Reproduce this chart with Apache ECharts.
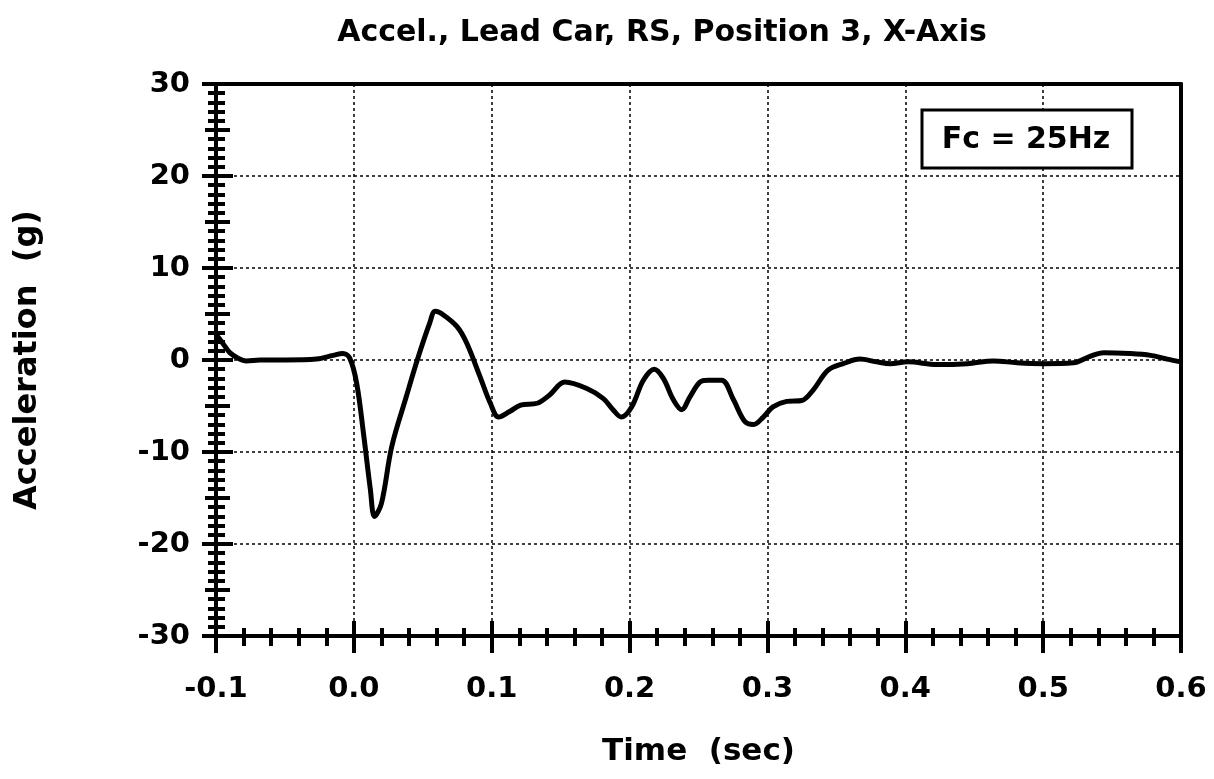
<!DOCTYPE html>
<html>
<head>
<meta charset="utf-8">
<script src="https://cdn.jsdelivr.net/npm/echarts@6/dist/echarts.min.js"></script>
<style>
html, body { margin: 0; padding: 0; background: #fff; }
#main { width: 1214px; height: 779px; }
</style>
</head>
<body>
<div id="main"></div>
<script>
// data
var timeSec = [-0.100, -0.095, -0.090, -0.084, -0.078, -0.068, -0.050, -0.027, -0.015, -0.008,
	-0.003, 0.002, 0.007, 0.012, 0.015, 0.020, 0.0275, 0.038, 0.046, 0.055,
	0.059, 0.065, 0.075, 0.082, 0.0915, 0.099, 0.105, 0.113, 0.121, 0.133,
	0.142, 0.153, 0.169, 0.181, 0.188, 0.194, 0.2015, 0.210, 0.218, 0.2245,
	0.2317, 0.2378, 0.2438, 0.251, 0.257, 0.2668, 0.2753, 0.2837, 0.290, 0.297,
	0.304, 0.314, 0.325, 0.333, 0.344, 0.355, 0.367, 0.379, 0.389, 0.402,
	0.423, 0.445, 0.464, 0.481, 0.500, 0.522, 0.534, 0.544, 0.563, 0.578,
	0.590, 0.600];
var accelG = [2.8, 1.8, 0.8, 0.2, -0.1, 0.0, 0.0, 0.1, 0.5, 0.7,
	0.2, -2.5, -8.0, -14.1, -17.0, -15.6, -9.4, -4.0, 0.0, 4.0,
	5.3, 4.9, 3.6, 1.8, -1.8, -4.7, -6.2, -5.6, -4.9, -4.7,
	-3.8, -2.4, -3.1, -4.2, -5.4, -6.2, -5.1, -2.2, -1.0, -2.0,
	-4.3, -5.4, -4.0, -2.4, -2.2, -2.2, -4.3, -6.7, -7.0, -6.2,
	-5.1, -4.5, -4.4, -3.3, -1.1, -0.4, 0.1, -0.2, -0.4, -0.2,
	-0.5, -0.4, -0.1, -0.3, -0.4, -0.3, 0.4, 0.8, 0.7, 0.5,
	0.1, -0.2];
var xTicks = [-0.1, 0.6, 0.1];   // min, max, step
var yTicks = [-30, 30, 10];

var FONT = '"DejaVu Sans", Arial, sans-serif';

var seriesData = [];
for (var i = 0; i < timeSec.length; i++) {
	seriesData.push([timeSec[i], accelG[i]]);
}

var noLabel = { show: false };
var noSplit = { show: false };
var noLine = { show: false, onZero: false };
var tickStyle = { color: '#000', width: 4 };

function xAx(extra) {
	var a = {
		type: 'value', position: 'bottom',
		min: xTicks[0], max: xTicks[1], interval: xTicks[2],
		axisLine: noLine, axisLabel: noLabel, splitLine: noSplit,
		axisTick: { show: false }
	};
	for (var k in extra) a[k] = extra[k];
	return a;
}
function yAx(extra) {
	var a = {
		type: 'value', position: 'left',
		min: yTicks[0], max: yTicks[1], interval: yTicks[2],
		axisLine: noLine, axisLabel: noLabel, splitLine: noSplit,
		axisTick: { show: false }
	};
	for (var k in extra) a[k] = extra[k];
	return a;
}

var option = {
	animation: false,
	backgroundColor: '#fff',
	grid: { left: 216, right: 33, top: 84, bottom: 143, outerBoundsMode: 'none' },
	xAxis: [
		xAx({
			name: 'Time  (sec)', nameLocation: 'middle', nameGap: 100,
			nameTextStyle: { fontFamily: FONT, fontWeight: 'bold', fontSize: 31, color: '#000' },
			axisLine: { show: true, onZero: false, lineStyle: { color: '#000', width: 4 } },
			axisLabel: { show: true, margin: 39, fontFamily: FONT, fontWeight: 'bold', fontSize: 29, color: '#000',
				formatter: function (v) { return v.toFixed(1); } },
			splitLine: { show: true, lineStyle: { color: '#000', width: 1.5, type: [3, 3] } },
			axisTick: { show: true, length: 17, lineStyle: tickStyle },
			minorTick: { show: true, splitNumber: 5, length: 10, lineStyle: tickStyle }
		}),
		xAx({
			axisTick: { show: true, inside: true, length: 15, lineStyle: tickStyle },
			minorTick: { show: true, splitNumber: 5, length: 8, lineStyle: tickStyle }
		}),
		xAx({
			position: 'top',
			axisLine: { show: true, onZero: false, lineStyle: { color: '#000', width: 4 } }
		})
	],
	yAxis: [
		yAx({
			name: 'Acceleration  (g)', nameLocation: 'middle', nameGap: 172,
			nameTextStyle: { fontFamily: FONT, fontWeight: 'bold', fontSize: 32, color: '#000' },
			axisLine: { show: true, onZero: false, lineStyle: { color: '#000', width: 4 } },
			axisLabel: { show: true, margin: 26, fontFamily: FONT, fontWeight: 'bold', fontSize: 29, color: '#000' },
			splitLine: { show: true, lineStyle: { color: '#000', width: 1.5, type: [3, 3] } },
			axisTick: { show: true, length: 14, lineStyle: tickStyle },
			minorTick: { show: true, splitNumber: 10, length: 8, lineStyle: tickStyle }
		}),
		yAx({
			axisTick: { show: true, inside: true, length: 17, lineStyle: tickStyle },
			minorTick: { show: true, splitNumber: 10, length: 9, lineStyle: tickStyle }
		}),
		yAx({
			interval: 5,
			axisTick: { show: true, length: 11, lineStyle: tickStyle }
		}),
		yAx({
			interval: 5,
			axisTick: { show: true, inside: true, length: 14, lineStyle: tickStyle }
		}),
		yAx({
			position: 'right',
			axisLine: { show: true, onZero: false, lineStyle: { color: '#000', width: 4 } }
		})
	],
	graphic: [
		{
			type: 'text', x: 662, y: 33,
			style: { text: 'Accel., Lead Car, RS, Position 3, X-Axis', fill: '#000',
				font: 'bold 30px ' + FONT, align: 'center', verticalAlign: 'middle' }
		},
		{
			type: 'rect', x: 922, y: 110,
			shape: { width: 210, height: 58 },
			style: { fill: '#fff', stroke: '#000', lineWidth: 3 },
			z: 10
		},
		{
			type: 'text', x: 1026, y: 140,
			style: { text: 'Fc = 25Hz', fill: '#000', font: 'bold 30px ' + FONT,
				align: 'center', verticalAlign: 'middle' },
			z: 11
		}
	],
	series: [
		{
			type: 'line',
			xAxisIndex: 0, yAxisIndex: 0,
			data: seriesData,
			smooth: 0.35,
			symbol: 'none',
			lineStyle: { color: '#000', width: 5 },
			z: 5
		}
	]
};

var myChart = echarts.init(document.getElementById('main'));
myChart.setOption(option);
</script>
</body>
</html>
